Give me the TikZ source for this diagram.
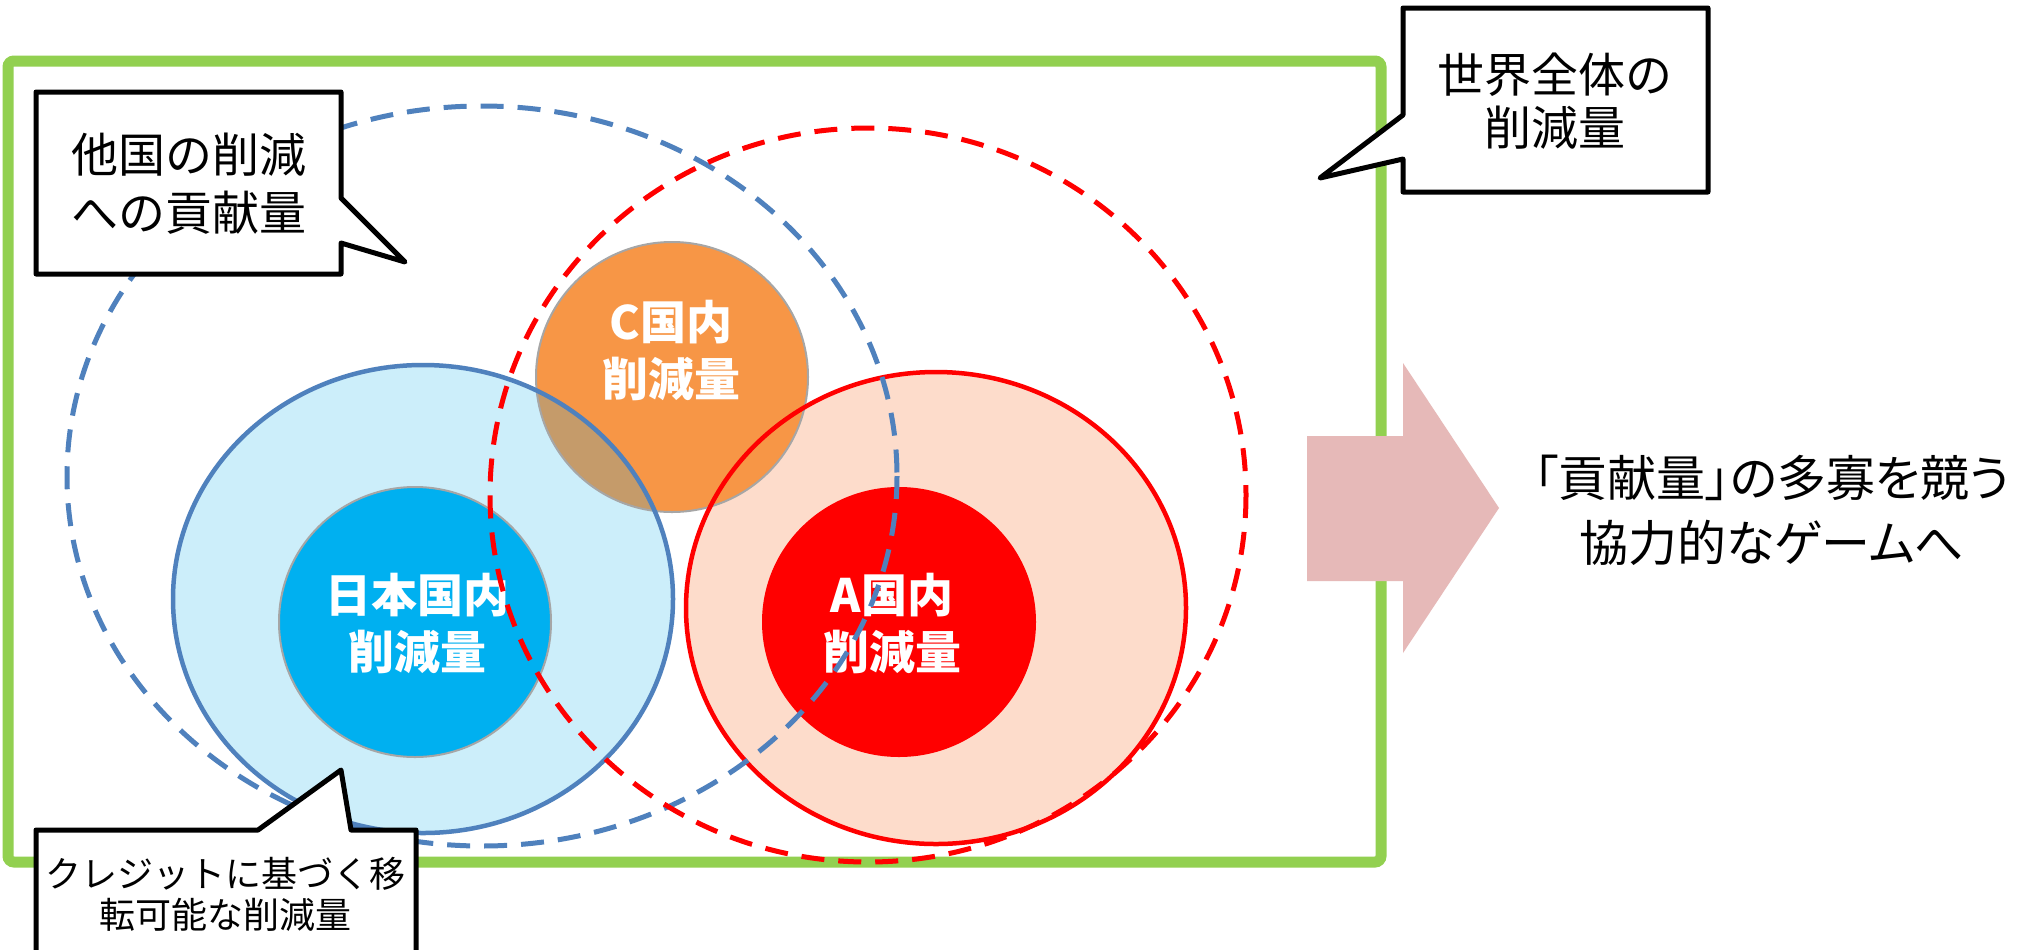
\documentclass[tikz,border=0pt]{standalone}
\usepackage{fontspec}
\newfontfamily\jp{Noto Sans CJK JP}
\newfontfamily\jpp[RawFeature=+palt]{Noto Sans CJK JP}
\definecolor{grn}{HTML}{92D050}
\definecolor{bdash}{HTML}{4F81BD}
\definecolor{lblue}{HTML}{CCEEFA}
\definecolor{peach}{HTML}{FDDCCB}
\definecolor{orng}{HTML}{F79646}
\definecolor{brwn}{HTML}{C59B6A}
\definecolor{cyanb}{HTML}{00B0F0}
\definecolor{arrowpink}{HTML}{E6B9B8}
\definecolor{rimgray}{HTML}{A6A6A6}
\tikzset{
  calloutbox/.style={draw=black, fill=white, line width=2.5pt, line join=round},
  ctext/.style={text=white, align=center, font=\jp\bfseries\fontsize{23}{28.5}\selectfont, inner sep=0pt},
  btext/.style={text=black, align=center, font=\jp\fontsize{23.5}{29}\selectfont, inner sep=0pt},
  dashring/.style={line width=2.5pt, dash pattern=on 11.5pt off 7pt},
}
\begin{document}
\begin{tikzpicture}[x=0.5pt,y=-0.5pt]
\useasboundingbox (0,0) rectangle (2030,949);
\fill[white] (0,0) rectangle (2030,949);
% green frame
\draw[grn, line width=5.5pt, rounded corners=3pt] (8,61) rectangle (1381,862);
% centres
\coordinate (jpC) at (423,599);
\coordinate (aC) at (936,608);
\coordinate (cC) at (672,377);
\coordinate (jpIn) at (415,622);
\coordinate (aIn) at (899,622);
\coordinate (bdC) at (482,476);
\coordinate (rdC) at (868,495);
% outer filled ellipses
\fill[lblue] (jpC) ellipse [x radius=250, y radius=234];
\fill[peach] (aC) ellipse [x radius=250, y radius=236];
% C
\fill[orng] (cC) ellipse [x radius=136, y radius=135];
\begin{scope}
  \clip (jpC) ellipse [x radius=250, y radius=234];
  \fill[brwn] (cC) ellipse [x radius=136, y radius=135];
\end{scope}
\draw[rimgray, line width=1pt] (cC) ellipse [x radius=136, y radius=135];
% inner
\fill[cyanb] (jpIn) ellipse [x radius=136, y radius=135];
\draw[rimgray, line width=1pt] (jpIn) ellipse [x radius=136, y radius=135];
\fill[red] (aIn) ellipse [x radius=137, y radius=135];
% borders
\draw[bdash, line width=2.25pt] (jpC) ellipse [x radius=250, y radius=234];
\draw[red, line width=2.25pt] (aC) ellipse [x radius=250, y radius=236];
% labels
\node[ctext] (cT) at (671,350) {C国内\\削減量};
\node[ctext] (jpT) at (417,623) {日本国内\\削減量};
\node[ctext] (aT) at (892,623) {A国内\\削減量};
% dashed rings
\draw[bdash, dashring] (bdC) ellipse [x radius=415, y radius=370];
\draw[red, dashring] (rdC) ellipse [x radius=378, y radius=367];
% callouts
\draw[calloutbox] (36,92) -- (341,92) -- (341,198) -- (405,262) -- (341,243) -- (341,274) -- (36,274) -- cycle;
\node[btext] (t1) at (189,184) {他国の削減\\への貢献量};
\draw[calloutbox] (1403,8) -- (1708,8) -- (1708,192) -- (1403,192) -- (1403,159) -- (1320,178) -- (1403,115) -- cycle;
\node[btext, font=\jp\fontsize{23.5}{26.5}\selectfont] (t2) at (1555,101) {世界全体の\\削減量};
\draw[calloutbox] (36,830) -- (258,830) -- (341,770) -- (351,830) -- (416,830) -- (416,1010) -- (36,1010) -- cycle;
\node[btext, font=\jp\fontsize{18}{20.5}\selectfont] (t3) at (226,894) {クレジットに基づく移\\転可能な削減量};
% arrow
\fill[arrowpink] (1307,436) -- (1403,436) -- (1403,363) -- (1499,508) -- (1403,653) -- (1403,581) -- (1307,581) -- cycle;
\node[btext, font=\jpp\fontsize{24.5}{32.5}\selectfont] (t4) at (1772,510) {「貢献量」の多寡を競う\\協力的なゲームへ};
\end{tikzpicture}
\end{document}
